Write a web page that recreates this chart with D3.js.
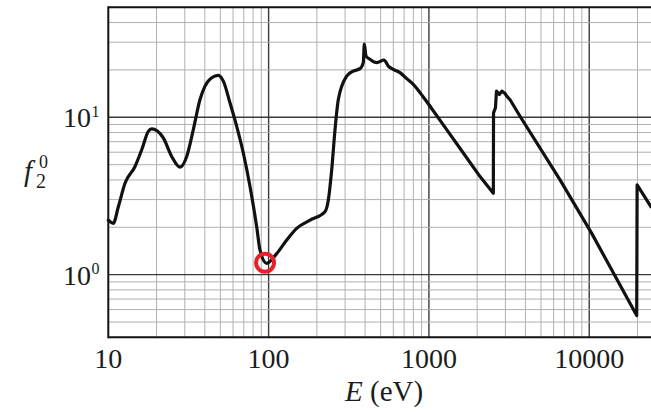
<!DOCTYPE html>
<html>
<head>
<meta charset="utf-8">
<script src="https://cdn.jsdelivr.net/npm/d3@7.9.0/dist/d3.min.js"></script>
<style>
  html, body { margin: 0; padding: 0; background: #fff; }
  svg { display: block; }
  text { font-family: "Times New Roman", "Liberation Serif", serif; fill: #1c1c1c; }
</style>
</head>
<body>
<svg id="chart" width="651" height="412"></svg>
<script>
// photon energy (eV)
const energy = [
  10, 10.74, 11.55, 12.71, 14.68, 16.16, 17.77, 18.66, 22.03, 24.86,
  28.02, 30.84, 33.91, 37.34, 40.11, 44.16, 48.56, 52.18, 57.43, 63.24,
  69.55, 76.56, 84.31, 88.4, 97.3, 112.3, 129.7, 149.7, 181.3, 224.8,
  235.8, 247.5, 259.6, 272.2, 307, 337.6, 371.7, 389.7, 395.4, 405.2,
  429.1, 472.5, 524.8, 558.1, 599.6, 660, 727, 799, 920, 1016,
  1291, 1639, 2084, 2523, 2530, 2600, 2640, 2750, 2850, 2980,
  3058, 3202, 3701, 6577, 10366, 19785, 19900, 24300
];
// f2^0 at each energy
const f2 = [
  2.22, 2.12, 2.70, 3.81, 4.87, 6.22, 8.14, 8.43, 7.39, 5.64,
  4.82, 5.64, 8.35, 12.97, 15.78, 17.85, 18.46, 16.98, 12.36, 8.76,
  5.93, 3.63, 2.01, 1.43, 1.18, 1.36, 1.66, 1.97, 2.22, 2.51,
  2.98, 4.63, 8.35, 12.97, 18.27, 19.67, 20.37, 22.26, 29.13, 24.52,
  23.36, 22.26, 23.12, 21.17, 20.17, 19.21, 17.6, 16.18, 13.5, 11.75,
  8.35, 5.93, 4.20, 3.29, 10.67, 11.48, 14.66, 13.96, 14.66, 14.2,
  13.62, 12.97, 10.15, 4.0, 1.83, 0.55, 3.72, 2.70
];
const xTickLabels = [10, 100, 1000, 10000];
const yTickExps = [0, 1];
const marker = { e: 95, f: 1.19 };
// above this energy the curve is a straight sawtooth
const smoothUntil = 1016;

const svg = d3.select('#chart');
const plotLeft = 108.3, plotTop = 7.3, plotBottom = 337.3;

const x = d3.scaleLog().domain([10, 30000]).range([plotLeft, 665.7]);
const y = d3.scaleLog().domain([0.4, 50]).range([plotBottom, plotTop]);

const isMajor = v => Math.abs(Math.log10(v) - Math.round(Math.log10(v))) < 1e-9;

// grid
const grid = svg.append('g');
grid.selectAll('line.vx')
  .data(x.ticks().filter(v => v > 10))
  .join('line')
  .attr('x1', d => x(d)).attr('x2', d => x(d))
  .attr('y1', plotTop).attr('y2', plotBottom)
  .attr('stroke', d => isMajor(d) ? '#3a3a3a' : '#b0b0b0')
  .attr('stroke-width', d => isMajor(d) ? 1.4 : 1);

grid.selectAll('line.hy')
  .data(y.ticks().filter(v => v > 0.41 && v < 49))
  .join('line')
  .attr('x1', plotLeft).attr('x2', 651)
  .attr('y1', d => y(d)).attr('y2', d => y(d))
  .attr('stroke', d => isMajor(d) ? '#3a3a3a' : '#b0b0b0')
  .attr('stroke-width', d => isMajor(d) ? 1.4 : 1);

// frame (right side runs off the picture)
const frame = svg.append('g').attr('stroke', '#111').attr('stroke-width', 2);
frame.append('line').attr('x1', plotLeft).attr('x2', 660).attr('y1', plotTop).attr('y2', plotTop);
frame.append('line').attr('x1', plotLeft).attr('x2', 660).attr('y1', plotBottom).attr('y2', plotBottom);
frame.append('line').attr('x1', plotLeft).attr('x2', plotLeft).attr('y1', plotTop - 1).attr('y2', plotBottom + 1);

// curve: smooth part + linear sawtooth part
const pts = energy.map((e, i) => [e, f2[i]]);
const smoothPts = pts.filter(d => d[0] <= smoothUntil);
const sawPts = pts.filter(d => d[0] >= smoothUntil);

const smoothLine = d3.line()
  .x(d => x(d[0])).y(d => y(d[1]))
  .curve(d3.curveMonotoneX);
const straightLine = d3.line()
  .x(d => x(d[0])).y(d => y(d[1]));

svg.selectAll('path.curve')
  .data([smoothLine(smoothPts), straightLine(sawPts)])
  .join('path')
  .attr('class', 'curve')
  .attr('d', d => d)
  .attr('fill', 'none')
  .attr('stroke', '#111')
  .attr('stroke-width', 3.2)
  .attr('stroke-linejoin', 'round')
  .attr('stroke-linecap', 'round');

// red marker
svg.append('circle')
  .attr('cx', x(marker.e)).attr('cy', y(marker.f))
  .attr('r', 9)
  .attr('fill', 'none')
  .attr('stroke', '#e8202a')
  .attr('stroke-width', 4);

// x tick labels
svg.selectAll('text.xt')
  .data(xTickLabels)
  .join('text')
  .attr('x', d => x(d)).attr('y', 368)
  .attr('text-anchor', 'middle')
  .attr('font-size', 28)
  .text(d => d);

// y tick labels 10^n
const yt = svg.selectAll('g.yt')
  .data(yTickExps)
  .join('g');
yt.append('text')
  .attr('x', 91).attr('y', d => y(Math.pow(10, d)) + 10)
  .attr('text-anchor', 'end')
  .attr('font-size', 28)
  .text('10');
yt.append('text')
  .attr('x', 91.5).attr('y', d => y(Math.pow(10, d)) - 0.5)
  .attr('font-size', 16)
  .text(d => d);

// y axis title f_2^0
const yl = svg.append('g');
yl.append('text').attr('x', 24).attr('y', 181)
  .attr('font-size', 29).attr('font-style', 'italic').text('f');
yl.append('text').attr('x', 36).attr('y', 188)
  .attr('font-size', 20).text('2');
yl.append('text').attr('x', 39).attr('y', 168)
  .attr('font-size', 18).text('0');

// x axis title
const xl = svg.append('text').attr('x', 345).attr('y', 401).attr('font-size', 29);
xl.append('tspan').attr('font-style', 'italic').text('E');
xl.append('tspan').text(' (eV)');
</script>
</body>
</html>
